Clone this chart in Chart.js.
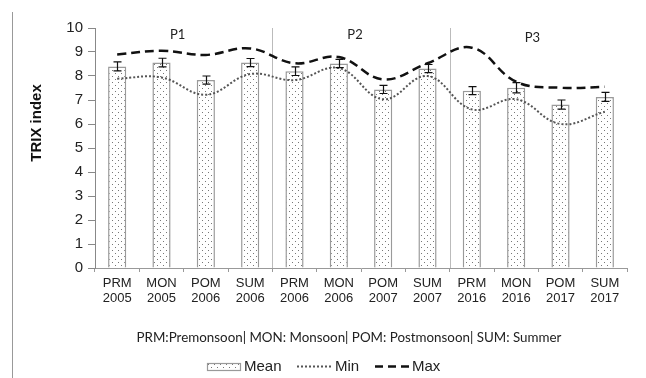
<!DOCTYPE html>
<html><head><meta charset="utf-8">
<script src="https://cdn.jsdelivr.net/npm/chart.js@4"></script>
<style>html,body{margin:0;padding:0;background:#fff}#wrap{width:646px;height:378px;position:relative}</style>
</head><body><div id="wrap"><canvas id="c" width="646" height="378"></canvas></div>
<script>
const categories = [["PRM","2005"],["MON","2005"],["POM","2006"],["SUM","2006"],["PRM","2006"],["MON","2006"],["POM","2007"],["SUM","2007"],["PRM","2016"],["MON","2016"],["POM","2017"],["SUM","2017"]];
const meanValues = [8.40,8.56,7.83,8.56,8.20,8.52,7.44,8.31,7.39,7.51,6.81,7.13];
const errorValues = [0.19,0.18,0.17,0.17,0.18,0.17,0.17,0.17,0.17,0.21,0.19,0.19];
const minValues = [7.89,7.94,7.22,8.08,7.83,8.33,7.03,8.00,6.61,7.03,6.00,6.51];
const maxValues = [8.90,9.05,8.88,9.15,8.53,8.79,7.86,8.53,9.18,7.76,7.51,7.55];
const periodLabels = ["P1","P2","P3"];
const periodStarts = [0,4,8];
const periodEnds = [3,7,11];
const footnote = "PRM:Premonsoon| MON: Monsoon| POM: Postmonsoon| SUM: Summer";
const yTitle = "TRIX index";

function makePattern(){
  const p = document.createElement('canvas'); p.width=6; p.height=6;
  const g = p.getContext('2d');
  g.fillStyle='#fff'; g.fillRect(0,0,6,6);
  g.fillStyle='#777'; g.fillRect(1,1,1,1); g.fillRect(4,4,1,1);
  return g.createPattern(p,'repeat');
}
const dots = makePattern();

const overlay = {
  id:'overlay',
  beforeDatasetsDraw(chart){
    const {ctx, scales:{x,y}} = chart;
    ctx.save();
    ctx.strokeStyle='#bbb'; ctx.lineWidth=1;
    for (let k=1;k<periodStarts.length;k++){
      const xb = Math.round((x.getPixelForValue(periodStarts[k]-1)+x.getPixelForValue(periodStarts[k]))/2)+0.5;
      ctx.beginPath(); ctx.moveTo(xb,y.top); ctx.lineTo(xb,y.bottom); ctx.stroke();
    }
    ctx.restore();
  },
  afterDatasetsDraw(chart){
    const {ctx, scales:{x,y}} = chart;
    ctx.save(); ctx.strokeStyle='#111'; ctx.lineWidth=1.2;
    meanValues.forEach((v,i)=>{
      const cx=Math.round(x.getPixelForValue(i))+0.5;
      const t=y.getPixelForValue(v+errorValues[i]);
      const b=y.getPixelForValue(v-errorValues[i]);
      ctx.beginPath();
      ctx.moveTo(cx,t); ctx.lineTo(cx,b);
      ctx.moveTo(cx-4,t); ctx.lineTo(cx+4,t);
      ctx.moveTo(cx-4,b); ctx.lineTo(cx+4,b);
      ctx.stroke();
    });
    ctx.restore();
  },
  afterDraw(chart){
    const {ctx, scales:{x,y}} = chart;
    ctx.save();
    // left frame line
    ctx.strokeStyle='#999'; ctx.lineWidth=1;
    ctx.beginPath(); ctx.moveTo(12.5,12); ctx.lineTo(12.5,378); ctx.stroke();
    // period labels
    ctx.fillStyle='#222'; ctx.font='13px Lato'; ctx.textAlign='center'; ctx.textBaseline='middle';
    periodLabels.forEach((lab,k)=>{
      const cx=(x.getPixelForValue(periodStarts[k])+x.getPixelForValue(periodEnds[k]))/2-6;
      const cy = k===2 ? 38 : 35;
      ctx.fillText(lab,cx,cy);
    });
    // y title
    ctx.save();
    ctx.translate(37,123); ctx.rotate(-Math.PI/2);
    ctx.font='bold 15px "Liberation Sans"'; ctx.fillStyle='#111';
    ctx.fillText(yTitle,0,0);
    ctx.restore();
    // footnote
    ctx.font='15px Lato';
    const w = ctx.measureText(footnote).width;
    const fs = 15*425/w;
    ctx.font=fs.toFixed(2)+'px Lato'; ctx.fillStyle='#222';
    ctx.fillText(footnote,349,338);
    // legend
    const ly=366.5;
    ctx.fillStyle=dots; ctx.fillRect(207,363,34,7);
    ctx.strokeStyle='#999'; ctx.lineWidth=1.2; ctx.strokeRect(207.5,363.5,33,7);
    ctx.font='15px "Liberation Sans"'; ctx.fillStyle='#222'; ctx.textAlign='left';
    ctx.fillText('Mean',244,367);
    ctx.strokeStyle='#555'; ctx.lineWidth=2; ctx.setLineDash([2,2]);
    ctx.beginPath(); ctx.moveTo(297,ly); ctx.lineTo(331,ly); ctx.stroke();
    ctx.fillText('Min',335,367);
    ctx.strokeStyle='#111'; ctx.lineWidth=2.5; ctx.setLineDash([8,5]);
    ctx.beginPath(); ctx.moveTo(375,ly); ctx.lineTo(409,ly); ctx.stroke();
    ctx.setLineDash([]);
    ctx.fillText('Max',412,367);
    ctx.restore();
  }
};

new Chart(document.getElementById('c'),{
  type:'bar',
  data:{
    labels:categories,
    datasets:[
      {type:'line',label:'Max',data:maxValues,borderColor:'#111',borderWidth:2.5,borderDash:[9,5],pointRadius:0,tension:0.4,fill:false,order:1},
      {type:'line',label:'Min',data:minValues,borderColor:'#555',borderWidth:2,borderDash:[2,2],pointRadius:0,tension:0.4,fill:false,order:2},
      {type:'bar',label:'Mean',data:meanValues,backgroundColor:dots,borderColor:'#9a9a9a',borderWidth:1.5,barPercentage:0.41,categoryPercentage:1,order:3}
    ]
  },
  options:{
    responsive:false,animation:false,devicePixelRatio:1,
    layout:{padding:{left:0,right:19,top:28,bottom:0}},
    plugins:{legend:{display:false},tooltip:{enabled:false}},
    scales:{
      x:{
        offset:true,
        grid:{offset:true,drawOnChartArea:false,tickLength:4,color:'#999'},
        border:{color:'#999',width:1},
        ticks:{autoSkip:false,maxRotation:0,padding:4,color:'#222',font:{family:'"Liberation Sans"',size:13,lineHeight:1.15}},
        afterFit(s){s.height=110;}
      },
      y:{
        min:0,max:10,
        grid:{drawOnChartArea:false,tickLength:7,color:'#888'},
        border:{color:'#888',width:1},
        ticks:{stepSize:1,padding:5,color:'#222',font:{family:'"Liberation Sans"',size:15}},
        afterFit(s){s.width=95;}
      }
    }
  },
  plugins:[overlay]
});
</script></body></html>
